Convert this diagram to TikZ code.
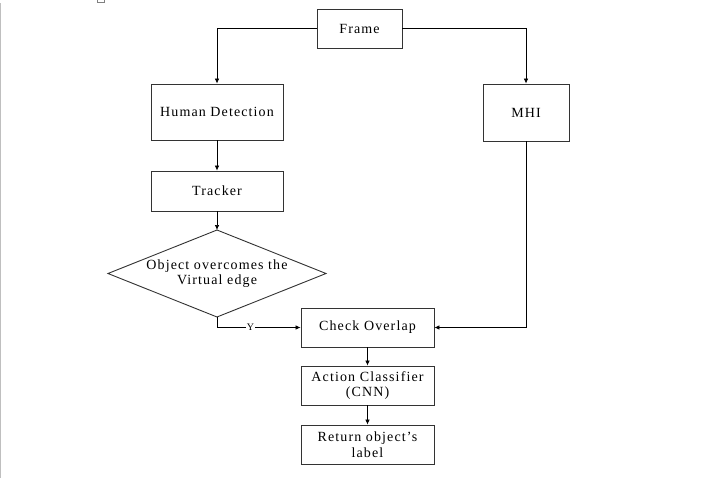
\documentclass[tikz,border=0pt]{standalone}
\usepackage{fontspec}
\setmainfont{Liberation Serif}[LetterSpace=8]
\usetikzlibrary{shapes.geometric,arrows.meta}
\begin{document}
\begin{tikzpicture}[x=1pt,y=-1pt,
  box/.style={draw=black!80,line width=0.9pt,fill=white,inner sep=0pt,align=center,font=\fontsize{14}{15.5}\selectfont},
  conn/.style={draw=black,line width=0.7pt,-{Latex[length=5pt,width=4.5pt]}},
  lbl/.style={font=\fontsize{10}{12}\selectfont,fill=white,inner sep=0.5pt}]
\useasboundingbox (0,0) rectangle (704,482);
\fill[white] (0,0) rectangle (704,482);
\draw[black!25,line width=1pt] (0.5,3) -- (0.5,478);
\draw[black!50,line width=0.6pt] (97,-1) rectangle (104,2);
\node[box,minimum width=85pt,minimum height=39pt] (frame) at (359.5,28.5) {Frame};
\node[box,minimum width=132pt,minimum height=56pt] (hd) at (217,112) {Human Detection};
\node[box,minimum width=86pt,minimum height=57pt] (mhi) at (526,112.5) {MHI};
\node[box,minimum width=132pt,minimum height=40pt] (tr) at (217,191) {Tracker};
\coordinate (dc) at (217,273.5);
\draw[black!80,line width=0.9pt,fill=white] (217,230) coordinate (dt) -- (326,273.5) coordinate (dr) -- (217,317) coordinate (db) -- (108,273.5) coordinate (dl) -- cycle;
\node[align=center,font=\fontsize{14}{15.5}\selectfont,inner sep=0pt] (dtext) at (dc) {Object overcomes the\\Virtual edge};
\node[box,minimum width=133pt,minimum height=39pt] (co) at (367.5,327.5) {Check Overlap};
\node[box,minimum width=133pt,minimum height=39pt] (ac) at (367.5,385.5) {Action Classifier\\(CNN)};
\node[box,minimum width=133pt,minimum height=39pt] (rl) at (367.5,444.5) {Return object’s\\label};
\draw[conn] (frame.west) -| (hd.north);
\draw[conn] (frame.east) -| (mhi.north);
\draw[conn] (hd) -- (tr);
\draw[conn] (tr) -- (dt);
\draw[conn] (db) |- node[lbl,pos=0.7] (y) {Y} (co.west);
\draw[conn] (mhi.south) |- (co.east);
\draw[conn] (co) -- (ac);
\draw[conn] (ac) -- (rl);
\end{tikzpicture}
\end{document}
